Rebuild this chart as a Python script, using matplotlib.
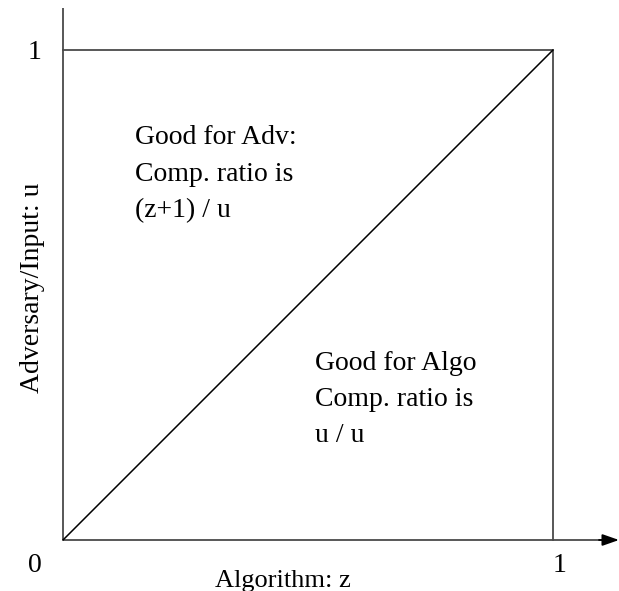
import matplotlib
matplotlib.use("Agg")
import matplotlib.pyplot as plt

# data
diag_z = [0.0, 1.0]
diag_u = [0.0, 1.0]
box_z = [0.0, 1.0, 1.0]
box_u = [1.0, 1.0, 0.0]
tick_labels = ["0", "1", "1"]
x_label = "Algorithm: z"
y_label = "Adversary/Input: u"
adv_text = ["Good for Adv:", "Comp. ratio is", "(z+1) / u"]
algo_text = ["Good for Algo", "Comp. ratio is", "u / u"]

plt.rcParams['font.family'] = ['Liberation Serif', 'DejaVu Serif']

fig = plt.figure(figsize=(6.19, 5.91), dpi=100)
ax = fig.add_axes([0, 0, 1, 1])
ax.set_axis_off()
s = 490.0
ax.set_xlim(-63 / s, (619 - 63) / s)
ax.set_ylim(-51 / s, 540 / s)

gray = "#4a4a4a"
lw = 1.3
# axes
ax.plot([0, 0], [0, 532 / s], color=gray, lw=lw, solid_capstyle='butt')
ax.plot([0, 540 / s], [0, 0], color=gray, lw=lw, solid_capstyle='butt')
ax.annotate("", xy=(619 / s - 63 / s, 0), xytext=(536 / s, 0),
            arrowprops=dict(arrowstyle="-|>,head_length=1.0,head_width=0.35",
                            color="black", lw=lw, shrinkA=0, shrinkB=0))
# box
ax.plot(box_z, box_u, color=gray, lw=lw)
# diagonal
ax.plot(diag_z, diag_u, color="black", lw=1.1)

fs = 20
ax.text(-28 / s, -26 / s, tick_labels[0], fontsize=fs, ha='center', va='center')
ax.text(-28 / s, 1.0 - 3 / s, tick_labels[1], fontsize=fs, ha='center', va='center')
ax.text(1.0 + 7 / s, -26 / s, tick_labels[2], fontsize=fs, ha='center', va='center')
ax.text(220 / s, -41 / s, x_label, fontsize=19, ha='center', va='center')
ax.text(-30 / s, 252 / s, y_label, fontsize=fs, ha='center', va='center', rotation=90)

for i, t in enumerate(adv_text):
    ax.text(72 / s, (540 - 138 - 36.5 * i) / s, t, fontsize=fs, ha='left', va='center')
for i, t in enumerate(algo_text):
    ax.text(252 / s, (540 - 363 - 36.5 * i) / s, t, fontsize=fs, ha='left', va='center')

fig.savefig("out.png", dpi=100)
